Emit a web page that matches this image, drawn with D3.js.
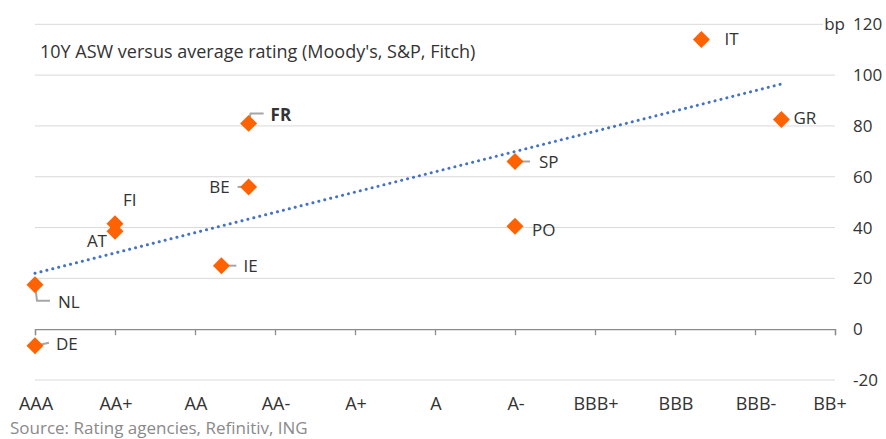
<!DOCTYPE html>
<html>
<head>
<meta charset="utf-8">
<script src="https://cdn.jsdelivr.net/npm/d3@7"></script>
<style>
	body { margin: 0; background: #fff; }
	svg text { font-family: "Open Sans", sans-serif; fill: #333; }
</style>
</head>
<body>
<div id="chart"></div>
<script>
// ---------- DATA ----------
const ratings = ["AAA", "AA+", "AA", "AA-", "A+", "A", "A-", "BBB+", "BBB", "BBB-", "BB+"];
const countries = ["DE", "NL", "FI", "AT", "IE", "BE", "FR", "SP", "PO", "IT", "GR"];
// average rating, in notches from AAA
const ratingScore = [0, 0, 1, 1, 2.33, 2.67, 2.67, 6, 6, 8.33, 9.33];
// 10Y asset swap spread, bp
const asw = [-6.5, 17.5, 41.5, 38.5, 25, 56, 81, 66, 40.5, 114, 82.5];
const yTicks = [-20, 0, 20, 40, 60, 80, 100, 120];

// label placement: offset of text from the point, optional leader line
const labelLayout = {
	DE: { dx: 21, dy: -2, leader: [[0, 0], [14, -3]] },
	NL: { dx: 23, dy: 17, leader: [[0, 0], [2, 16], [15, 16]] },
	FI: { dx: 8, dy: -24 },
	AT: { dx: -8, dy: 10, anchor: "end" },
	IE: { dx: 22, dy: 0, leader: [[0, 0], [15, 0]] },
	BE: { dx: -19, dy: 0, anchor: "end", leader: [[0, 0], [-11, 0]] },
	FR: { dx: 22, dy: -8, bold: true, leader: [[0, -2], [2, -10], [15, -10]] },
	SP: { dx: 24, dy: 1, leader: [[0, 0], [15, 0]] },
	PO: { dx: 17, dy: 4 },
	IT: { dx: 23, dy: 0 },
	GR: { dx: 12, dy: -2 },
};

const width = 886;
const height = 439;

const svg = d3
	.select("#chart")
	.append("svg")
	.attr("width", width)
	.attr("height", height);

const x = d3.scaleLinear().domain([0, ratings.length - 1]).range([35, 835]);
const y = d3.scaleLinear().domain([-20, 120]).range([380, 24.3]);

// gridlines
svg.append("g")
	.selectAll("line")
	.data(yTicks.filter((d) => d !== 0))
	.join("line")
	.attr("x1", x(0))
	.attr("x2", (d) => (d === 120 ? 823 : x(10)))
	.attr("y1", (d) => y(d))
	.attr("y2", (d) => y(d))
	.attr("stroke", "#d9d9d9")
	.attr("stroke-width", 1);

// zero axis with ticks
const xAxis = svg
	.append("g")
	.attr("transform", `translate(0, ${y(0)})`)
	.call(
		d3.axisBottom(x)
			.tickValues(d3.range(ratings.length))
			.tickSize(6)
			.tickFormat("")
	);
xAxis.select(".domain").attr("stroke", "#8c8c8c").attr("stroke-width", 1.3);
xAxis.selectAll(".tick line").attr("stroke", "#8c8c8c").attr("stroke-width", 1.3);

// rating labels
svg.append("g")
	.selectAll("text")
	.data(ratings)
	.join("text")
	.attr("x", (d, i) => x(i) + (i === ratings.length - 1 ? -5 : 1))
	.attr("y", 404)
	.attr("dy", "0.35em")
	.attr("text-anchor", "middle")
	.attr("font-size", 18)
	.text((d) => d);

// y labels
svg.append("g")
	.selectAll("text")
	.data(yTicks)
	.join("text")
	.attr("x", 853)
	.attr("y", (d) => y(d))
	.attr("dy", "0.35em")
	.attr("font-size", 17)
	.text((d) => d);

svg.append("text")
	.attr("x", 845)
	.attr("y", y(120))
	.attr("dy", "0.35em")
	.attr("text-anchor", "end")
	.attr("font-size", 17)
	.text("bp");

// title
svg.append("text")
	.attr("x", 40)
	.attr("y", 52)
	.attr("dy", "0.35em")
	.attr("font-size", 18)
	.text("10Y ASW versus average rating (Moody's, S&P, Fitch)");

// source
svg.append("text")
	.attr("x", 10)
	.attr("y", 428)
	.attr("dy", "0.35em")
	.attr("font-size", 17)
	.style("fill", "#8a8a8a")
	.text("Source: Rating agencies, Refinitiv, ING");

// linear trendline (least squares)
const mx = d3.mean(ratingScore);
const my = d3.mean(asw);
const slope =
	d3.sum(ratingScore, (d, i) => (d - mx) * (asw[i] - my)) /
	d3.sum(ratingScore, (d) => (d - mx) * (d - mx));
const intercept = my - slope * mx;
const trendX = d3.extent(ratingScore);

svg.append("path")
	.datum(trendX)
	.attr("d", d3.line().x((d) => x(d)).y((d) => y(intercept + slope * d)))
	.attr("fill", "none")
	.attr("stroke", "#4472c4")
	.attr("stroke-width", 3)
	.attr("stroke-linecap", "round")
	.attr("stroke-dasharray", "0.1 6");

const points = countries.map((c, i) => ({ c, r: ratingScore[i], v: asw[i] }));

// leader lines
svg.append("g")
	.selectAll("path")
	.data(points.filter((d) => labelLayout[d.c].leader))
	.join("path")
	.attr("d", (d) =>
		d3.line()(labelLayout[d.c].leader.map((p) => [x(d.r) + p[0], y(d.v) + p[1]]))
	)
	.attr("fill", "none")
	.attr("stroke", "#a6a6a6")
	.attr("stroke-width", 2);

// diamonds
svg.append("g")
	.selectAll("path")
	.data(points)
	.join("path")
	.attr("d", d3.symbol(d3.symbolSquare, 144))
	.attr("transform", (d) => `translate(${x(d.r)}, ${y(d.v)}) rotate(45)`)
	.attr("fill", "#ff6200");

// labels
svg.append("g")
	.selectAll("text")
	.data(points)
	.join("text")
	.attr("x", (d) => x(d.r) + labelLayout[d.c].dx)
	.attr("y", (d) => y(d.v) + labelLayout[d.c].dy)
	.attr("dy", "0.35em")
	.attr("text-anchor", (d) => labelLayout[d.c].anchor || "start")
	.attr("font-size", 17)
	.attr("font-weight", (d) => (labelLayout[d.c].bold ? "bold" : null))
	.text((d) => d.c);
</script>
</body>
</html>
